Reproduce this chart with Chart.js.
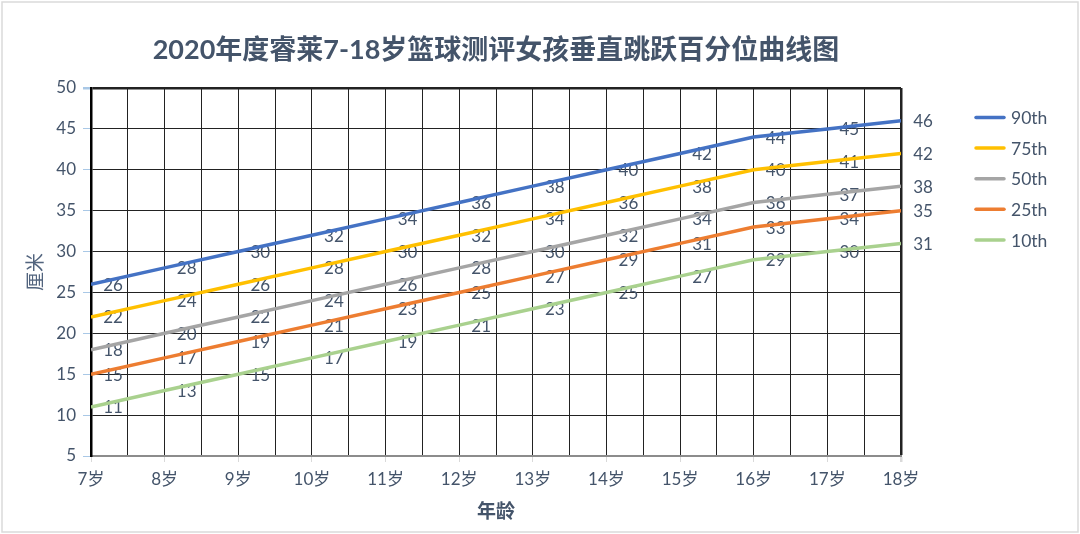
<!DOCTYPE html>
<html>
<head>
<meta charset="utf-8">
<script src="https://cdn.jsdelivr.net/npm/chart.js@4.4.1/dist/chart.umd.min.js"></script>
<style>
  html, body { margin: 0; padding: 0; background: #fff; }
  #wrap { width: 1080px; height: 534px; }
</style>
</head>
<body>
<div id="wrap"><canvas id="c" width="1080" height="534"></canvas></div>
<script>
// 年龄分类
const ages = ['7岁', '8岁', '9岁', '10岁', '11岁', '12岁', '13岁', '14岁', '15岁', '16岁', '17岁', '18岁'];
const seriesNames = ['90th', '75th', '50th', '25th', '10th'];
const p90 = [26, 28, 30, 32, 34, 36, 38, 40, 42, 44, 45, 46];
const p75 = [22, 24, 26, 28, 30, 32, 34, 36, 38, 40, 41, 42];
const p50 = [18, 20, 22, 24, 26, 28, 30, 32, 34, 36, 37, 38];
const p25 = [15, 17, 19, 21, 23, 25, 27, 29, 31, 33, 34, 35];
const p10 = [11, 13, 15, 17, 19, 21, 23, 25, 27, 29, 30, 31];
const yTicks = [5, 10, 15, 20, 25, 30, 35, 40, 45, 50];

const colors = ['#4472C4', '#FFC000', '#A5A5A5', '#ED7D31', '#A9D18E'];
const textColor = '#44546A';
const latin = 'Lato, "Noto Sans CJK SC", sans-serif';

function toPoints(arr) {
	return arr.map(function(v, i) { return { x: i, y: v }; });
}

const allSeries = [p90, p75, p50, p25, p10];

// 外框
const framePlugin = {
	id: 'frame',
	beforeDraw: function(chart) {
		const ctx = chart.ctx;
		ctx.save();
		ctx.fillStyle = '#fff';
		ctx.fillRect(0, 0, chart.width, chart.height);
		ctx.strokeStyle = '#DADADA';
		ctx.lineWidth = 1.5;
		ctx.strokeRect(2, 2, chart.width - 4, chart.height - 4);
		ctx.restore();
	}
};

// 数据标签：画在线条下面，位于点的右侧
const labelPlugin = {
	id: 'pointLabels',
	beforeDatasetsDraw: function(chart) {
		const ctx = chart.ctx;
		ctx.save();
		ctx.font = '17px ' + latin;
		ctx.fillStyle = textColor;
		ctx.textAlign = 'center';
		ctx.textBaseline = 'middle';
		chart.data.datasets.forEach(function(ds, di) {
			const meta = chart.getDatasetMeta(di);
			meta.data.forEach(function(pt, i) {
				ctx.fillText(String(ds.data[i].y), pt.x + 22, pt.y + 1);
			});
		});
		ctx.restore();
	}
};

// 图例
const legendPlugin = {
	id: 'sideLegend',
	afterDraw: function(chart) {
		const ctx = chart.ctx;
		ctx.save();
		ctx.font = '17.5px ' + latin;
		ctx.textAlign = 'left';
		ctx.textBaseline = 'middle';
		chart.data.datasets.forEach(function(ds, i) {
			const y = 117.5 + i * 30.6;
			ctx.strokeStyle = ds.borderColor;
			ctx.lineWidth = 3.5;
			ctx.lineCap = 'round';
			ctx.beginPath();
			ctx.moveTo(976, y);
			ctx.lineTo(1004, y);
			ctx.stroke();
			ctx.fillStyle = textColor;
			ctx.fillText(ds.label, 1011, y + 1);
		});
		ctx.restore();
	}
};

const ctx = document.getElementById('c').getContext('2d');
new Chart(ctx, {
	type: 'line',
	data: {
		datasets: allSeries.map(function(arr, i) {
			return {
				label: seriesNames[i],
				data: toPoints(arr),
				borderColor: colors[i],
				backgroundColor: colors[i],
				borderWidth: 3.5,
				pointRadius: 0,
				tension: 0,
				fill: false
			};
		})
	},
	options: {
		responsive: false,
		animation: false,
		events: [],
		layout: { padding: { left: 0, right: 179, top: 0, bottom: 0 } },
		plugins: {
			legend: { display: false },
			tooltip: { enabled: false },
			title: {
				display: true,
				fullSize: false,
				text: '2020年度睿莱7-18岁篮球测评女孩垂直跳跃百分位曲线图',
				color: textColor,
				font: { family: latin, size: 27, weight: 'bold', lineHeight: 1.2 },
				padding: { top: 34, bottom: 21.6 }
			}
		},
		scales: {
			x: {
				type: 'linear',
				min: 0,
				max: ages.length - 1,
				afterBuildTicks: function(axis) {
					const t = [];
					for (let v = 0; v <= ages.length - 1; v += 0.5) t.push({ value: v });
					axis.ticks = t;
				},
				afterFit: function(axis) { axis.height = 78; },
				ticks: {
					autoSkip: false,
					maxRotation: 0,
					padding: 7,
					color: textColor,
					font: { family: latin, size: 17 },
					callback: function(v) { return Number.isInteger(v) ? ages[v] : ''; }
				},
				grid: {
					drawTicks: true,
					tickLength: 6,
					tickColor: function(c) { return Number.isInteger(c.tick && c.tick.value) ? '#D9D9D9' : 'rgba(0,0,0,0)'; },
					color: '#222',
					lineWidth: function(c) {
						if (c.tick && c.tick.value === ages.length - 1) return 2.5;
						return 1;
					}
				},
				border: { display: true, color: '#8C8C8C', width: 2 },
				title: {
					display: true,
					text: '年龄',
					color: textColor,
					font: { family: latin, size: 19, weight: 'bold', lineHeight: 1.2 },
					padding: { top: 0, bottom: 10.6 }
				}
			},
			y: {
				min: yTicks[0],
				max: yTicks[yTicks.length - 1],
				afterBuildTicks: function(axis) {
					axis.ticks = yTicks.map(function(v) { return { value: v }; });
				},
				afterFit: function(axis) { axis.width = 91; },
				ticks: {
					padding: 7,
					color: textColor,
					font: { family: latin, size: 17 }
				},
				grid: {
					drawTicks: true,
					tickLength: 8,
					tickColor: '#A9C8E6',
					color: function(c) {
						if (c.tick && c.tick.value === yTicks[0]) return '#8C8C8C';
						return '#222';
					},
					lineWidth: function(c) {
						if (c.tick && c.tick.value === yTicks[yTicks.length - 1]) return 2.5;
						return 1;
					}
				},
				border: { display: true, color: '#000', width: 2.5 },
				title: {
					display: true,
					text: '厘米',
					color: '#52647E',
					font: { family: latin, size: 19, lineHeight: 1.2 },
					padding: { top: 24.6, bottom: 0 }
				}
			}
		}
	},
	plugins: [framePlugin, labelPlugin, legendPlugin]
});
</script>
</body>
</html>
